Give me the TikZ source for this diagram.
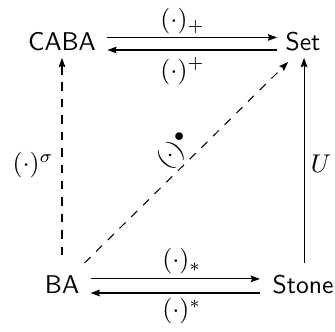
\documentclass[tikz,border=0pt]{standalone}
\usetikzlibrary{arrows.meta}
\begin{document}
\begin{tikzpicture}[x=0.39pt,y=-0.39pt,
  obj/.style={inner sep=0pt,font=\sffamily,anchor=base},
  arr/.style={-{Stealth[length=3.6pt,width=2.6pt,inset=0.5pt]},line width=0.4pt},
  dsh/.style={dash pattern=on 3.3pt off 3.1pt},
  lbl/.style={inner sep=0pt,anchor=center}]
\useasboundingbox (0,0) rectangle (335,331);
\node[obj] (CABA) at (62,50) {CABA};
\node[obj] (Set) at (303,50) {Set};
\node[obj] (BA) at (62,293) {BA};
\node[obj] (Stone) at (303,293) {Stone};
% top pair
\draw[arr] ([xshift=4.3pt,yshift=4.9pt]CABA.base east) -- ([xshift=-3.1pt,yshift=4.9pt]Set.base west)
  node[midway,lbl,xshift=-3.8pt,yshift=6.2pt] {$(\cdot)_+$};
\draw[arr] ([xshift=-3.1pt,yshift=0pt]Set.base west) -- ([xshift=4.3pt,yshift=0pt]CABA.base east)
  node[midway,lbl,xshift=-3.8pt,yshift=-8.2pt] {$(\cdot)^+$};
% bottom pair
\draw[arr] ([xshift=4.3pt,yshift=5.5pt]BA.base east) -- ([xshift=-4.7pt,yshift=5.5pt]Stone.base west)
  node[midway,lbl,xshift=2.5pt,yshift=7pt] {$(\cdot)_*$};
\draw[arr] ([xshift=-4.7pt,yshift=0pt]Stone.base west) -- ([xshift=4.3pt,yshift=0pt]BA.base east)
  node[midway,lbl,xshift=2.5pt,yshift=-7pt] {$(\cdot)^*$};
% verticals
\draw[arr,dsh] ([yshift=14.8pt]BA.base) -- ([yshift=-3.1pt]CABA.base)
  node[midway,lbl,xshift=-11.3pt,yshift=-3.3pt] {$(\cdot)^\sigma$};
\draw[arr] ([xshift=0.4pt,yshift=11.7pt]Stone.base) -- ([xshift=0.4pt,yshift=-3.1pt]Set.base)
  node[midway,lbl,xshift=6.6pt,yshift=-1.4pt] {$U$};
% diagonal
\draw[arr,dsh] ([xshift=1.9pt,yshift=11.7pt]BA.base east) -- ([xshift=1.2pt,yshift=-4.7pt]Set.base west)
  node[pos=0.5,above,sloped,inner sep=1pt] {$(\cdot)^\bullet$};
\end{tikzpicture}
\end{document}
